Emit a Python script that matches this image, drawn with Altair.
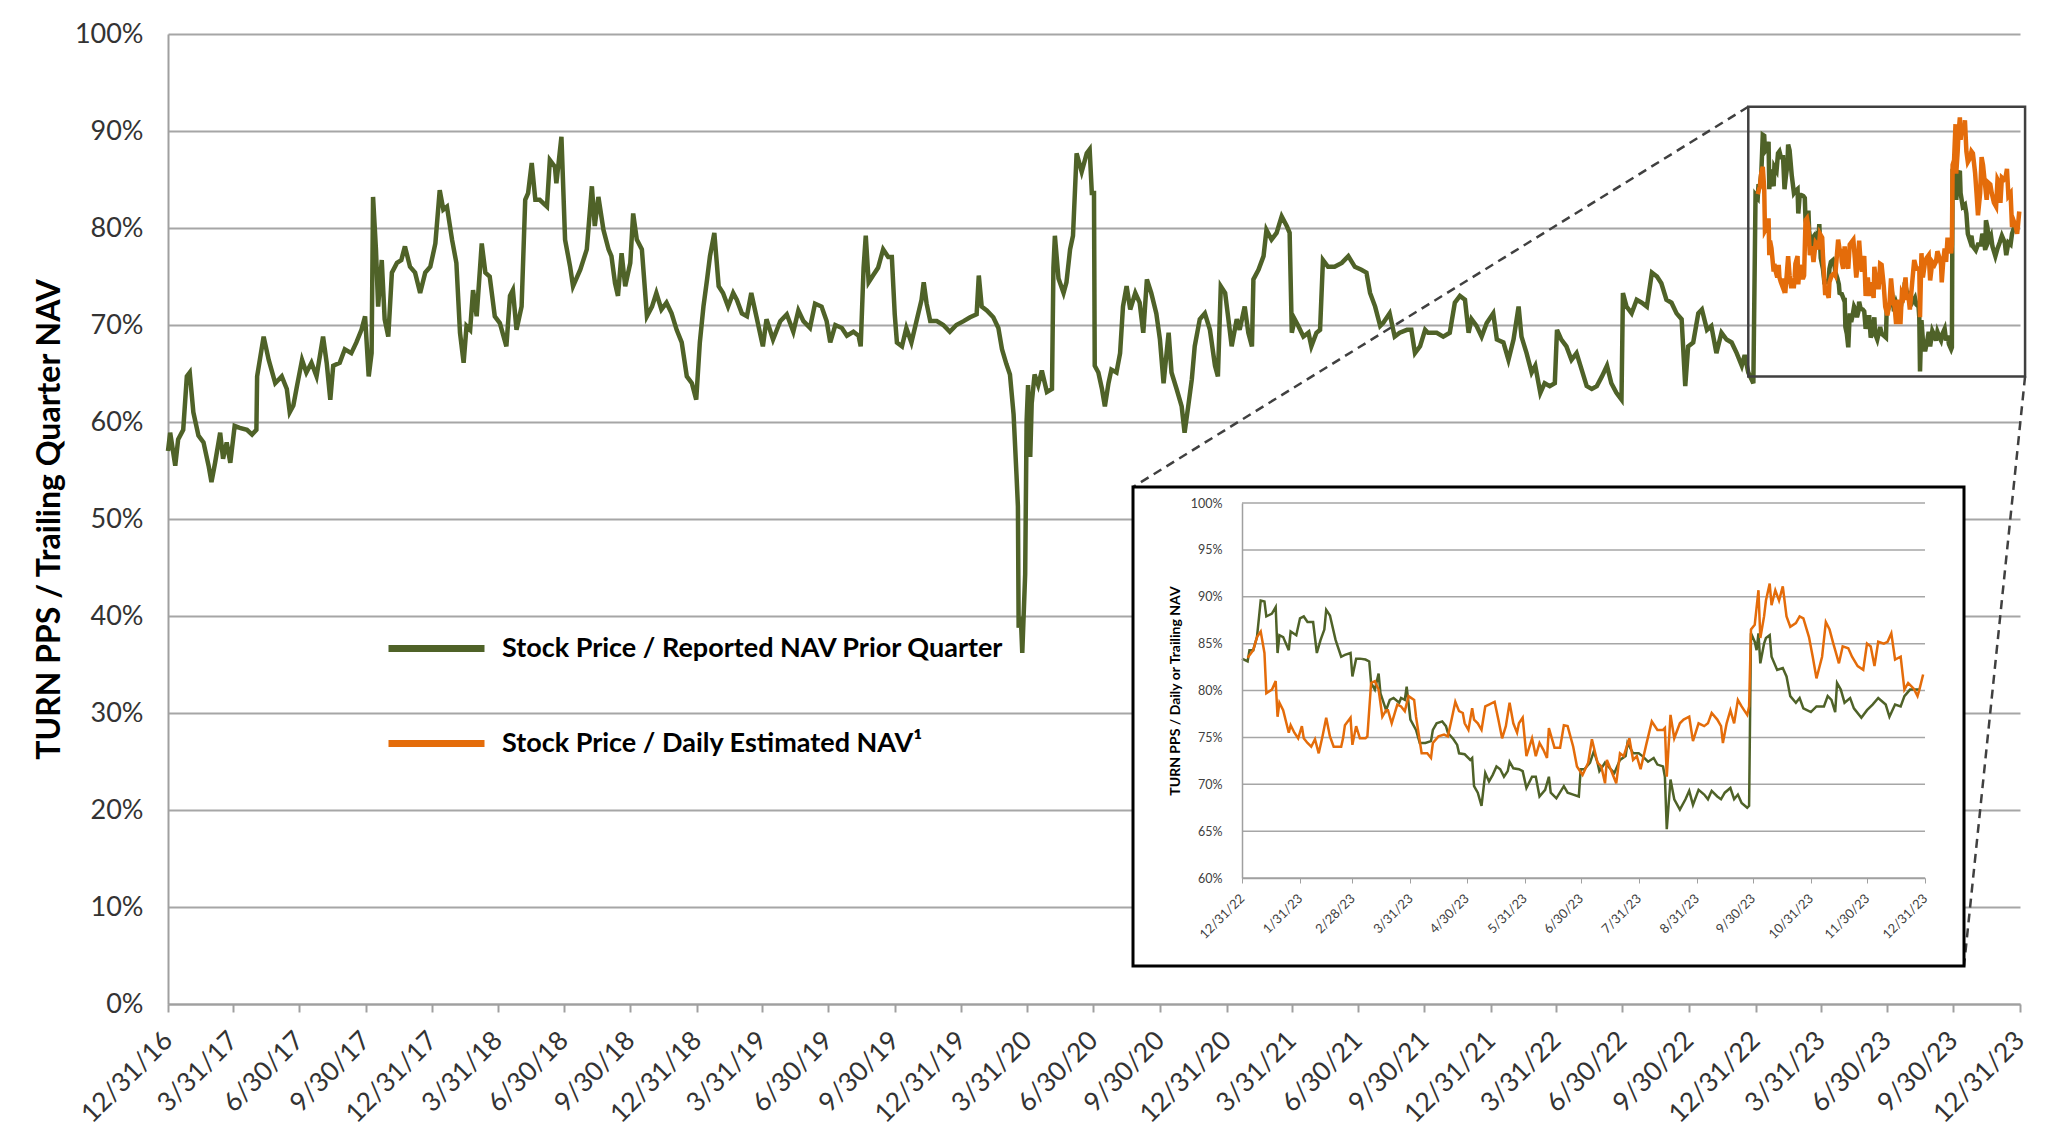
import altair as alt
import pandas as pd

# ---------------- text ----------------
GREEN_LABEL = "Stock Price / Reported NAV Prior Quarter"
ORANGE_LABEL = "Stock Price / Daily Estimated NAV\u00b9"
MAIN_Y_TITLE = "TURN PPS / Trailing Quarter NAV"
INSET_Y_TITLE = "TURN PPS / Daily or Trailing NAV"

GREEN = "#4F6228"
ORANGE = "#E46C0A"

MAIN_BASE = "2016-12-31"
INSET_BASE = "2022-12-31"

# ---------------- data: (days after 12/31/16, price / NAV %) ----------------
GREEN_2017 = [(0, 57), (3, 58.9), (10, 55.5), (14, 58.2), (21, 59.2), (26, 64.7), (30, 65.1), (35, 61), (42, 58.6),
              (49, 57.9), (56, 55.5), (60, 53.8), (65, 55.8), (72, 58.9), (76, 56.2), (81, 57.9), (86, 55.8),
              (92, 59.6), (99, 59.4), (109, 59.2), (116, 58.7), (122, 59.2), (123, 64.7), (132, 68.8), (139, 66.4),
              (148, 64.0), (157, 64.7), (164, 63.4), (168, 61), (173, 61.7), (178, 63.7), (185, 66.4), (191, 65.1),
              (198, 66.1), (205, 64.7), (214, 68.8), (219, 66.1), (224, 62.3), (228, 65.8), (237, 66.1), (244, 67.5),
              (253, 67.1), (260, 68.2), (267, 69.5), (272, 70.9), (277, 64.7), (281, 67.1), (283, 83.2), (287, 77.8),
              (290, 71.9), (295, 76.7), (299, 70.6), (304, 68.8), (309, 75.4), (316, 76.4), (322, 76.7), (327, 78.1),
              (334, 76.0), (341, 75.4), (348, 73.3), (355, 75.4), (362, 76.0), (369, 78.4), (375, 83.9), (380, 81.9),
              (385, 82.2), (392, 78.8), (398, 76.4), (403, 69.2), (408, 66.1), (412, 69.9)]
GREEN_2018 = [(417, 69.5), (421, 73.6), (426, 70.9), (433, 78.4), (438, 75.4), (444, 75.0), (451, 70.9), (458, 70.2),
              (467, 67.8), (472, 73.0), (476, 73.6), (481, 69.5), (488, 71.9), (493, 82.9), (497, 83.6), (502, 86.7),
              (507, 82.9), (513, 82.9), (523, 82.2), (527, 87.0), (534, 86.3), (536, 84.6), (543, 89.4), (548, 78.8),
              (555, 76.0), (559, 74.0), (569, 75.7), (578, 77.8), (585, 84.3), (589, 80.2), (594, 83.2), (601, 79.8),
              (608, 77.8), (612, 77.1), (617, 74.3), (621, 73.0), (626, 77.4), (631, 74.0), (638, 76.4), (642, 81.5),
              (647, 78.8), (654, 77.8), (661, 70.9), (668, 71.9), (674, 73.3), (681, 71.6), (688, 72.3), (695, 71.2),
              (702, 69.5), (709, 68.2), (716, 64.7), (723, 64.0), (729, 62.3), (734, 68.2), (739, 71.9), (744, 74.7),
              (748, 77.1), (754, 79.5), (760, 74.0), (766, 73.3), (773, 71.9), (780, 73.3), (785, 72.6), (792, 71.2),
              (799, 70.9), (805, 73.3), (812, 70.9), (821, 67.8), (826, 70.6), (835, 68.5)]
GREEN_2020 = [(845, 70.4), (854, 71.1), (863, 69.3), (870, 71.5), (877, 70.4), (886, 69.7), (893, 72.2), (902, 71.9),
              (909, 70.4), (914, 68.2), (921, 70.0), (930, 69.7), (937, 68.9), (946, 69.3), (953, 68.9), (956, 67.8),
              (960, 75.9), (963, 79.2), (967, 74.4), (973, 75.1), (980, 75.9), (987, 77.8), (994, 77.0), (999, 77.0),
              (1003, 71.1), (1006, 68.2), (1013, 67.8), (1019, 69.7), (1026, 68.2), (1033, 70.4), (1040, 72.6),
              (1043, 74.4), (1047, 72.2), (1052, 70.4), (1061, 70.4), (1070, 70.0), (1079, 69.3), (1088, 70.0),
              (1098, 70.4), (1107, 70.8), (1116, 71.1), (1119, 75.1), (1123, 71.9), (1130, 71.5), (1139, 70.8),
              (1146, 69.7), (1151, 67.5), (1157, 66.0), (1162, 64.9), (1167, 60.8), (1171, 54.6), (1173, 51.3),
              (1174, 38.8), (1177, 39.9), (1179, 36.2), (1183, 44.3), (1185, 60.1), (1187, 63.8), (1190, 56.4),
              (1192, 61.9), (1196, 64.9), (1201, 63.8), (1206, 65.3), (1213, 63.1), (1220, 63.4), (1222, 75.9),
              (1224, 79.2), (1229, 74.8), (1236, 73.3), (1240, 74.4), (1245, 77.8), (1249, 79.2), (1254, 87.7),
              (1261, 85.8), (1268, 87.7), (1272, 88.1), (1275, 83.6)]
GREEN_2021 = [(1278, 83.6), (1279, 65.8), (1284, 65.1), (1289, 63.4), (1293, 61.6), (1298, 64.0), (1302, 65.4),
              (1309, 65.1), (1314, 67.1), (1318, 71.9), (1323, 74.0), (1328, 71.6), (1335, 73.3), (1341, 72.3),
              (1346, 69.2), (1351, 74.7), (1357, 73.3), (1364, 71.2), (1369, 68.5), (1374, 64.0), (1381, 69.2),
              (1385, 65.1), (1392, 63.4), (1399, 61.6), (1403, 58.9), (1408, 61.6), (1413, 64.4), (1417, 67.8),
              (1424, 70.6), (1431, 71.2), (1438, 69.5), (1445, 65.8), (1449, 64.7), (1453, 74.0), (1459, 73.3),
              (1463, 70.9), (1468, 67.8), (1475, 70.6), (1479, 69.5), (1486, 71.9), (1491, 69.2), (1496, 67.8),
              (1498, 74.7), (1505, 75.7), (1512, 77.1), (1516, 79.8), (1523, 78.8), (1530, 79.5), (1537, 81.2),
              (1544, 80.2), (1548, 79.5), (1551, 69.2), (1555, 70.6), (1560, 69.9), (1567, 68.8), (1574, 69.2),
              (1578, 67.8), (1585, 69.2), (1590, 69.5), (1594, 76.7), (1601, 76.0), (1610, 76.0), (1620, 76.4),
              (1629, 77.1), (1638, 76.0), (1647, 75.7), (1654, 75.4), (1659, 73.3), (1666, 71.9), (1673, 69.9),
              (1677, 70.2), (1686, 71.2), (1693, 68.8)]
GREEN_2022 = [(1700, 69.2), (1710, 69.5), (1716, 69.5), (1721, 67.1), (1728, 67.8), (1735, 69.5), (1739, 69.2),
              (1744, 69.2), (1751, 69.2), (1760, 68.8), (1769, 69.2), (1776, 72.3), (1783, 73.0), (1790, 72.6),
              (1795, 69.2), (1799, 70.6), (1806, 69.9), (1813, 68.8), (1820, 70.2), (1829, 71.2), (1834, 68.5),
              (1843, 68.2), (1850, 66.4), (1857, 68.5), (1864, 71.9), (1868, 68.8), (1875, 67.1), (1882, 65.1),
              (1887, 65.8), (1894, 63.0), (1900, 64.0), (1907, 63.7), (1914, 64.0), (1917, 69.5), (1923, 68.5),
              (1930, 67.8), (1937, 66.4), (1944, 67.1), (1951, 65.4), (1958, 63.7), (1965, 63.4), (1972, 63.7),
              (1979, 64.7), (1986, 65.8), (1992, 64.0), (1999, 63.0), (2006, 62.3), (2008, 73.3), (2013, 71.9),
              (2020, 71.2), (2027, 72.6), (2034, 72.3), (2041, 71.9), (2048, 75.4), (2055, 75.0), (2061, 74.3),
              (2068, 72.6), (2075, 72.3), (2082, 71.2), (2089, 70.6), (2094, 63.7), (2098, 67.8), (2105, 68.2),
              (2112, 71.2), (2117, 71.6), (2124, 69.5), (2130, 69.9), (2137, 67.1), (2144, 69.2), (2151, 68.5),
              (2158, 68.2), (2165, 67.1), (2172, 65.8), (2176, 66.9), (2181, 65.1), (2188, 64.0)]

# ---------------- 2023 detail: (days after 12/31/22, %) ----------------
GREEN_2023 = [(0, 83.4), (3, 83.1), (4, 84.3), (6, 84.3), (8, 85.7), (10, 89.6), (12, 89.5), (13, 87.9), (14, 88.0),
              (16, 88.2), (18, 88.9), (19, 84.0), (20, 85.9), (22, 85.7), (25, 84.3), (26, 86.3), (29, 85.9),
              (31, 87.7), (33, 87.9), (35, 87.3), (38, 87.3), (40, 84.0), (42, 85.4), (44, 86.5), (45, 88.6),
              (47, 88.0), (50, 85.4), (53, 83.6), (55, 83.8), (58, 84.0), (59, 81.5), (61, 83.4), (63, 83.4),
              (66, 83.3), (68, 83.1), (69, 80.8), (71, 80.1), (73, 81.8), (74, 79.7), (77, 77.9), (79, 79.0),
              (81, 79.2), (84, 78.7), (85, 79.2), (87, 79.0), (88, 80.4), (90, 76.9), (93, 75.8), (95, 74.4),
              (98, 74.4), (101, 74.6), (102, 75.8), (104, 76.5), (107, 76.7), (109, 76.2), (110, 75.5), (113, 74.8),
              (115, 74.2), (116, 73.3), (119, 73.2), (122, 72.6), (123, 72.8), (124, 69.8), (126, 69.1), (128, 67.7),
              (130, 71.2), (132, 70.3), (134, 71.0), (136, 71.9), (138, 71.6), (140, 70.8), (142, 71.4), (143, 72.4),
              (145, 71.7), (148, 71.6), (150, 71.4), (152, 69.6), (155, 70.8), (157, 70.8), (159, 68.7), (162, 69.4),
              (164, 70.8), (165, 69.1), (168, 68.5), (172, 69.8), (174, 69.1), (177, 68.9), (180, 68.7), (181, 71.6),
              (183, 71.6), (186, 72.3), (188, 73.5), (190, 72.3), (191, 71.4), (194, 72.3), (197, 71.6), (199, 71.2),
              (202, 72.6), (205, 73.0), (206, 74.4), (209, 73.3), (212, 73.3), (214, 73.0), (217, 72.4), (220, 72.8),
              (222, 72.1), (225, 71.9), (226, 70.8), (227, 65.2), (229, 70.5), (231, 68.4), (234, 67.3), (237, 68.4),
              (239, 69.3), (241, 67.8), (244, 69.4), (247, 68.9), (249, 68.4), (251, 69.3), (254, 68.7), (256, 68.4),
              (258, 69.1), (261, 69.6), (263, 68.4), (265, 68.9), (267, 68.0), (270, 67.5), (271, 67.7), (272, 86.1),
              (274, 85.2), (275, 84.3), (276, 86.1), (277, 82.9), (279, 85.0), (280, 85.6), (282, 85.9), (283, 83.6),
              (286, 82.2), (289, 82.4), (291, 81.5), (293, 79.4), (296, 78.7), (298, 79.2), (300, 78.1), (304, 77.7),
              (307, 78.3), (311, 78.3), (313, 79.4), (315, 79.0), (317, 77.7), (318, 80.8), (320, 80.1), (322, 78.7),
              (325, 79.2), (327, 78.1), (331, 77.1), (334, 77.9), (337, 78.5), (340, 79.2), (344, 78.5), (346, 77.2),
              (349, 78.5), (352, 78.3), (354, 79.4), (357, 80.1), (361, 80.1), (362, 80.1)]
ORANGE_2023 = [(3, 83.5), (6, 84.3), (8, 85.7), (10, 86.3), (12, 84.0), (13, 79.7), (16, 80.1), (18, 81.0), (19, 77.2),
               (20, 78.7), (22, 77.9), (25, 75.5), (26, 76.3), (28, 75.5), (30, 74.9), (32, 76.2), (33, 74.9),
               (35, 74.4), (37, 74.0), (39, 74.8), (41, 73.3), (43, 75.1), (45, 77.1), (47, 75.1), (49, 74.0),
               (53, 74.0), (54, 74.9), (55, 76.3), (58, 77.1), (59, 74.2), (61, 76.2), (63, 74.9), (66, 74.9),
               (67, 75.1), (69, 80.8), (71, 81.0), (73, 80.1), (75, 77.2), (77, 77.9), (78, 77.9), (80, 76.5),
               (83, 78.5), (85, 78.3), (87, 77.8), (89, 79.4), (92, 79.0), (93, 77.2), (96, 73.3), (99, 73.3),
               (101, 72.8), (102, 74.4), (105, 75.1), (108, 75.3), (110, 75.1), (112, 76.9), (114, 78.8), (116, 77.8),
               (118, 77.6), (119, 76.5), (121, 75.8), (123, 78.1), (124, 76.9), (126, 76.5), (128, 75.8), (130, 78.3),
               (132, 78.5), (135, 78.8), (137, 76.9), (139, 74.9), (141, 76.2), (143, 78.7), (145, 76.5), (147, 75.5),
               (148, 76.5), (150, 77.1), (152, 73.0), (155, 74.9), (157, 73.0), (159, 74.4), (161, 73.7), (163, 72.8),
               (164, 76.0), (167, 73.9), (170, 73.9), (172, 76.3), (174, 76.2), (177, 74.0), (179, 71.9), (182, 71.0),
               (185, 72.3), (187, 74.8), (190, 72.3), (192, 71.9), (194, 70.1), (195, 72.6), (197, 71.6), (200, 70.1),
               (202, 73.3), (204, 73.0), (207, 74.9), (209, 72.6), (211, 73.0), (213, 71.6), (216, 74.2), (219, 76.7),
               (222, 75.8), (225, 75.8), (226, 76.0), (227, 70.8), (229, 77.4), (231, 74.9), (234, 76.5), (236, 76.9),
               (239, 77.2), (241, 74.6), (244, 76.5), (247, 76.2), (249, 76.5), (251, 77.6), (254, 76.9), (256, 76.2),
               (257, 74.4), (259, 76.5), (261, 77.9), (263, 76.5), (265, 79.0), (267, 78.3), (270, 77.4), (271, 78.3),
               (272, 86.5), (274, 87.0), (276, 90.7), (277, 85.6), (279, 87.9), (280, 89.6), (282, 91.4), (283, 89.1),
               (285, 90.7), (287, 89.6), (289, 91.1), (291, 87.9), (293, 86.8), (296, 87.2), (298, 87.9), (300, 87.7),
               (303, 85.7), (305, 83.6), (307, 81.3), (310, 83.6), (312, 87.3), (314, 86.5), (316, 85.0), (317, 84.3),
               (319, 82.9), (321, 84.7), (324, 84.5), (326, 83.6), (329, 82.6), (332, 82.2), (334, 85.0), (336, 84.7),
               (338, 82.6), (340, 85.2), (343, 85.0), (345, 85.2), (347, 86.1), (349, 83.3), (352, 83.6), (354, 80.1),
               (356, 80.8), (359, 80.2), (361, 79.4), (362, 80.1), (364, 81.7)]

# ---------------- axis ticks ----------------
MAIN_TICKS = ["2016-12-31", "2017-03-31", "2017-06-30", "2017-09-30", "2017-12-31", "2018-03-31", "2018-06-30",
              "2018-09-30", "2018-12-31", "2019-03-31", "2019-06-30", "2019-09-30", "2019-12-31", "2020-03-31",
              "2020-06-30", "2020-09-30", "2020-12-31", "2021-03-31", "2021-06-30", "2021-09-30", "2021-12-31",
              "2022-03-31", "2022-06-30", "2022-09-30", "2022-12-31", "2023-03-31", "2023-06-30", "2023-09-30",
              "2023-12-31"]
INSET_TICKS = ["2022-12-31", "2023-01-31", "2023-02-28", "2023-03-31", "2023-04-30", "2023-05-31", "2023-06-30",
               "2023-07-31", "2023-08-31", "2023-09-30", "2023-10-31", "2023-11-30", "2023-12-31"]
MAIN_Y_TICKS = [0, 10, 20, 30, 40, 50, 60, 70, 80, 90, 100]
INSET_Y_TICKS = [60, 65, 70, 75, 80, 85, 90, 95, 100]

# highlighted region of the main chart (dates, %)
ZOOM_BOX = {"date": "2022-12-21", "date2": "2024-01-07", "pct": 64.7, "pct2": 92.5}

# ---------------- layout (pixels inside the plot area) ----------------
W, H = 1852, 970
INSET_X_RANGE = [1074, 1757]
INSET_Y_RANGE = [844, 469]
FRAME = {"x": 965, "y": 453, "x2": 1796, "y2": 932}


def to_date(base, days):
    return (pd.Timestamp(base) + pd.Timedelta(days=days)).strftime("%Y-%m-%d")


def ms(s):
    return int(pd.Timestamp(s, tz="UTC").timestamp() * 1000)


def frame_of(pairs, base, series):
    return pd.DataFrame({"date": [to_date(base, d) for d, _ in pairs],
                         "pct": [v for _, v in pairs],
                         "series": series})


main_green_df = pd.concat([frame_of(GREEN_2017 + GREEN_2018 + GREEN_2020 + GREEN_2021 + GREEN_2022, MAIN_BASE, GREEN_LABEL),
                           frame_of(GREEN_2023, INSET_BASE, GREEN_LABEL)], ignore_index=True)
orange_df = frame_of(ORANGE_2023, INSET_BASE, ORANGE_LABEL)
inset_green_df = frame_of(GREEN_2023, INSET_BASE, GREEN_LABEL)
box_df = pd.DataFrame([ZOOM_BOX])
box_top_df = pd.DataFrame({"date": [ZOOM_BOX["date"]], "pct": [ZOOM_BOX["pct2"]]})
box_bottom_df = pd.DataFrame({"date": [ZOOM_BOX["date2"]], "pct": [ZOOM_BOX["pct"]]})
grid_df = pd.DataFrame({"date": INSET_TICKS[0], "date2": INSET_TICKS[-1], "pct": INSET_Y_TICKS})

color = alt.Color(
    "series:N",
    scale=alt.Scale(domain=[GREEN_LABEL, ORANGE_LABEL], range=[GREEN, ORANGE]),
    legend=alt.Legend(orient="none", legendX=217, legendY=563, title=None, direction="vertical",
                      symbolType="stroke", symbolSize=9216, symbolStrokeWidth=7,
                      labelFont="Lato", labelFontSize=27, labelFontWeight="bold", labelColor="black",
                      labelLimit=1000, labelOffset=14, rowPadding=29),
)

date_fmt = "utcFormat(datum.value, '%-m/%-d/%y')"

main_x = alt.X(
    "date:T",
    scale=alt.Scale(type="utc", domain=[ms(MAIN_TICKS[0]), ms(MAIN_TICKS[-1])], nice=False),
    axis=alt.Axis(values=[ms(t) for t in MAIN_TICKS], labelExpr=date_fmt, labelAngle=315, labelAlign="right",
                  labelBaseline="middle", labelFont="Lato", labelFontSize=26.5, labelColor="#333333",
                  labelPadding=24, labelOverlap=False, labelFlush=False, labelBound=False,
                  tickSize=8, tickWidth=2, tickColor="#a0a0a0", domainColor="#a0a0a0", domainWidth=2,
                  grid=False, title=None),
)
main_y = alt.Y(
    "pct:Q",
    scale=alt.Scale(domain=[0, 100], nice=False, zero=False),
    axis=alt.Axis(values=MAIN_Y_TICKS, labelExpr="datum.value + '%'", labelFont="Lato", labelFontSize=27,
                  labelColor="#333333", labelPadding=25, ticks=False, domainColor="#a0a0a0", domainWidth=2,
                  grid=True, gridColor="#a6a6a6", gridWidth=2,
                  title=MAIN_Y_TITLE, titleFont="Lato", titleFontSize=32, titleFontWeight="bold",
                  titleColor="black", titleAngle=270, titleX=-119, titleY=485, titleAlign="center",
                  titleBaseline="middle"),
)

main_green = alt.Chart(main_green_df).mark_line(strokeWidth=4.5).encode(x=main_x, y=main_y, color=color)
main_orange = alt.Chart(orange_df).mark_line(strokeWidth=4.5).encode(x=main_x, y=main_y, color=color)
box = alt.Chart(box_df).mark_rect(fillOpacity=0, stroke="#404040", strokeWidth=2.5).encode(
    x=main_x, x2="date2:T", y=main_y, y2="pct2:Q")
dash_top = alt.Chart(box_top_df).mark_rule(strokeDash=[9, 6], strokeWidth=2.5, color="#404040").encode(
    x=main_x, y=main_y, x2=alt.value(FRAME["x"]), y2=alt.value(FRAME["y"]))
dash_bottom = alt.Chart(box_bottom_df).mark_rule(strokeDash=[9, 6], strokeWidth=2.5, color="#404040").encode(
    x=main_x, y=main_y, x2=alt.value(FRAME["x2"]), y2=alt.value(FRAME["y2"]))

main_layer = alt.layer(main_green, main_orange, box, dash_top, dash_bottom)

frame = alt.Chart(pd.DataFrame({"k": [0]})).mark_rect(fill="white", stroke="black", strokeWidth=3).encode(
    x=alt.value(FRAME["x"]), x2=alt.value(FRAME["x2"]), y=alt.value(FRAME["y"]), y2=alt.value(FRAME["y2"]))

inset_x = alt.X(
    "date:T",
    scale=alt.Scale(type="utc", domain=[ms(INSET_TICKS[0]), ms(INSET_TICKS[-1])], range=INSET_X_RANGE, nice=False),
    axis=alt.Axis(orient="bottom", offset=INSET_Y_RANGE[0] - H, values=[ms(t) for t in INSET_TICKS],
                  labelExpr=date_fmt, labelAngle=315, labelAlign="right", labelBaseline="middle",
                  labelFont="Lato", labelFontSize=13, labelColor="#404040", labelPadding=13,
                  labelOverlap=False, labelFlush=False, labelBound=False,
                  tickSize=5, tickColor="#a0a0a0", domainColor="#a0a0a0", domainWidth=1.5,
                  grid=False, title=None, zindex=1),
)
inset_y = alt.Y(
    "pct:Q",
    scale=alt.Scale(domain=[60, 100], range=INSET_Y_RANGE, nice=False, zero=False),
    axis=alt.Axis(orient="left", offset=-INSET_X_RANGE[0], values=INSET_Y_TICKS, labelExpr="datum.value + '%'",
                  labelFont="Lato", labelFontSize=12.5, labelColor="#404040", labelPadding=20, ticks=False,
                  domainColor="#a0a0a0", domainWidth=1.5, grid=False,
                  title=INSET_Y_TITLE, titleFont="Lato", titleFontSize=14, titleFontWeight="bold",
                  titleColor="black", titleAngle=270, titleX=-67, titleY=(INSET_Y_RANGE[0] + INSET_Y_RANGE[1]) / 2,
                  titleAlign="center", titleBaseline="middle", zindex=1),
)

inset_grid = alt.Chart(grid_df).mark_rule(color="#a6a6a6", strokeWidth=1.5).encode(
    x=inset_x, x2="date2:T", y=inset_y)
inset_green = alt.Chart(inset_green_df).mark_line(strokeWidth=2.5).encode(x=inset_x, y=inset_y, color=color)
inset_orange = alt.Chart(orange_df).mark_line(strokeWidth=2.5).encode(x=inset_x, y=inset_y, color=color)
inset_layer = alt.layer(inset_grid, inset_green, inset_orange)

chart = (
    alt.layer(main_layer, frame, inset_layer)
    .resolve_scale(x="independent", y="independent")
    .properties(width=W, height=H, autosize=alt.AutoSizeParams(type="none"),
                padding={"left": 160, "top": 26, "right": 31, "bottom": 139})
    .configure(font="Lato")
    .configure_view(stroke=None)
)

chart.save("out.html", embed_options={"renderer": "svg", "actions": False})
